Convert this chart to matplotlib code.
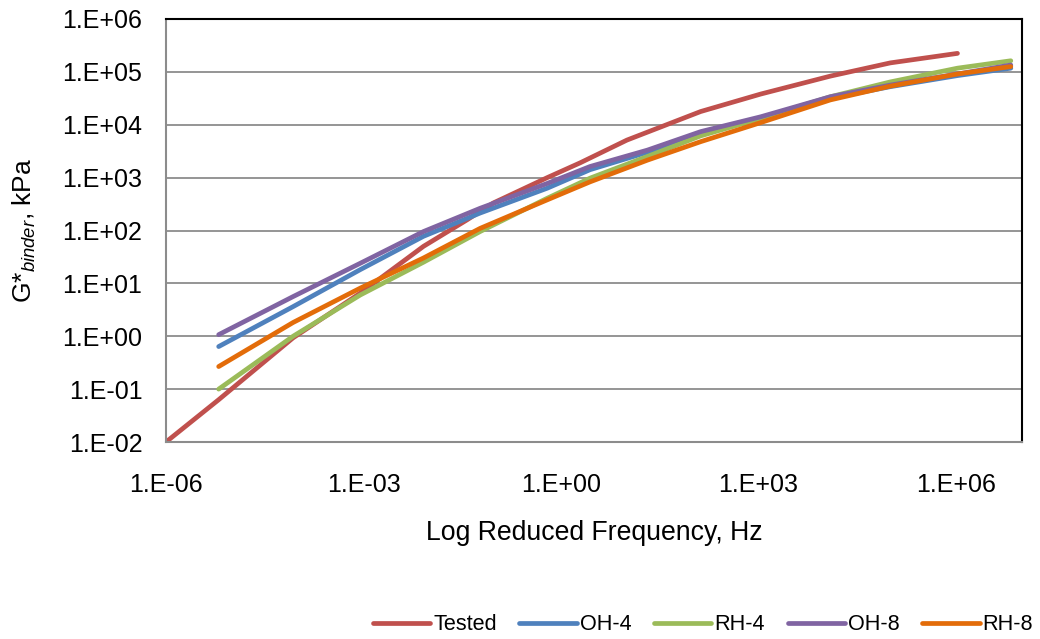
import matplotlib
matplotlib.use("Agg")
import matplotlib.pyplot as plt
from matplotlib.ticker import FixedLocator, FuncFormatter, NullLocator
import numpy as np

plt.rcParams['font.family'] = ['Liberation Sans', 'DejaVu Sans']
plt.rcParams['mathtext.fontset'] = 'custom'
plt.rcParams['mathtext.rm'] = 'Liberation Sans'
plt.rcParams['mathtext.it'] = 'Liberation Sans:italic'

# ---- data (log10 values) ----
tested_logf = [-6.0, -5.2, -4.07, -3.05, -2.09, -1.43, -1.03, -0.21, 0.29, 1.0, 2.12, 3.03, 4.09, 5.0, 6.02]
tested_logg = [-2.0, -1.2, -0.03, 0.815, 1.70, 2.20, 2.52, 3.0, 3.28, 3.71, 4.25, 4.58, 4.92, 5.17, 5.35]

model_logf = [-5.2, -4.07, -3.05, -2.09, -1.23, -0.21, 0.44, 1.31, 2.12, 3.03, 4.09, 5.0, 6.02, 6.83]
oh4_logg = [-0.195, 0.56, 1.26, 1.89, 2.33, 2.80, 3.15, 3.48, 3.84, 4.12, 4.50, 4.72, 4.93, 5.07]
rh4_logg = [-1.0, 0.0, 0.78, 1.40, 1.98, 2.61, 2.99, 3.40, 3.79, 4.12, 4.53, 4.81, 5.07, 5.21]
oh8_logg = [0.03, 0.75, 1.38, 1.98, 2.42, 2.89, 3.21, 3.52, 3.87, 4.15, 4.53, 4.75, 4.96, 5.13]
rh8_logg = [-0.573, 0.26, 0.91, 1.48, 2.04, 2.58, 2.92, 3.33, 3.68, 4.04, 4.47, 4.73, 4.96, 5.10]

series_names = ["Tested", "OH-4", "RH-4", "OH-8", "RH-8"]
series_colors = ["#C0504D", "#4F81BD", "#9BBB59", "#8064A2", "#E36C09"]

x_ticks = [1e-6, 1e-3, 1e0, 1e3, 1e6]
y_ticks = [1e-2, 1e-1, 1e0, 1e1, 1e2, 1e3, 1e4, 1e5, 1e6]

# ---- figure ----
W, H = 1040, 639
fig = plt.figure(figsize=(W / 100, H / 100), dpi=100)
L, R, T, B = 166, 1022, 19, 442
ax = fig.add_axes([L / W, 1 - B / H, (R - L) / W, (B - T) / H])

data = [
    (tested_logf, tested_logg),
    (model_logf, oh4_logg),
    (model_logf, rh4_logg),
    (model_logf, oh8_logg),
    (model_logf, rh8_logg),
]
for (lf, lg), name, col in zip(data, series_names, series_colors):
    ax.plot(10 ** np.array(lf), 10 ** np.array(lg), color=col, lw=3.4,
            solid_capstyle='round', solid_joinstyle='round', label=name)

ax.set_xscale('log')
ax.set_yscale('log')
ax.set_xlim(1e-6, 1e7)
ax.set_ylim(1e-2, 1e6)
ax.xaxis.set_major_locator(FixedLocator(x_ticks))
ax.yaxis.set_major_locator(FixedLocator(y_ticks))
ax.xaxis.set_minor_locator(NullLocator())
ax.yaxis.set_minor_locator(NullLocator())

def fmt(v, pos):
    e = int(round(np.log10(v)))
    return f"1.E{e:+03d}"

ax.xaxis.set_major_formatter(FuncFormatter(fmt))
ax.yaxis.set_major_formatter(FuncFormatter(fmt))
ax.tick_params(axis='both', length=0, labelsize=18, colors='#000000')
ax.tick_params(axis='x', pad=22)
ax.tick_params(axis='y', pad=17)

ax.grid(axis='y', color='#8C8C8C', lw=1.3)
ax.grid(axis='x', visible=False)
ax.set_axisbelow(True)

for s in ['left', 'bottom']:
    ax.spines[s].set_color('#8C8C8C')
    ax.spines[s].set_linewidth(1.5)
for s in ['top', 'right']:
    ax.spines[s].set_color('#000000')
    ax.spines[s].set_linewidth(1.5)

ax.set_xlabel('Log Reduced Frequency, Hz', fontsize=19.2, va='center')
ax.xaxis.set_label_coords(0.5, (B - 533) / (B - T))
ax.set_ylabel('G*$_{binder}$, kPa', fontsize=19, va='center')
ax.yaxis.set_label_coords((24 - L) / (R - L), 0.5)

fig.legend(loc='center', bbox_to_anchor=(703 / W, 1 - 625 / H), ncol=5,
           frameon=False, fontsize=15.6, handlelength=2.65, handletextpad=0.13,
           columnspacing=1.05, borderaxespad=0)

fig.savefig('out.png', dpi=100)
